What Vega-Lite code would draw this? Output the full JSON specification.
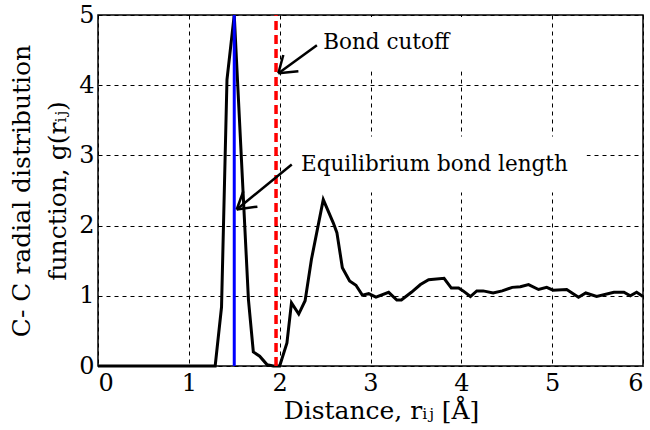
{
  "$schema": "https://vega.github.io/schema/vega-lite/v6.json",
  "autosize": {"type": "none"},
  "width": 545,
  "height": 351,
  "padding": {"left": 98, "top": 15, "right": 7, "bottom": 64},
  "background": "white",
  "config": {
    "view": {"stroke": "black", "strokeWidth": 1.5},
    "font": "DejaVu Serif",
    "axis": {
      "domain": false,
      "ticks": false,
      "grid": true,
      "gridColor": "black",
      "gridOpacity": 1,
      "gridDash": [4, 4],
      "gridWidth": 1,
      "labelFont": "DejaVu Serif",
      "labelFontSize": 24,
      "labelColor": "black",
      "titleFont": "DejaVu Serif",
      "titleFontSize": 25,
      "titleFontWeight": "normal",
      "titleColor": "black"
    }
  },
  "datasets": {
    "gr": [
      {"r": 0.0, "g": 0.0}, {"r": 1.29, "g": 0.0}, {"r": 1.36, "g": 0.84}, {"r": 1.42, "g": 4.08},
      {"r": 1.5, "g": 5.0}, {"r": 1.58, "g": 2.92}, {"r": 1.656, "g": 0.95}, {"r": 1.71, "g": 0.2},
      {"r": 1.78, "g": 0.14}, {"r": 1.86, "g": 0.02}, {"r": 1.93, "g": 0.0}, {"r": 2.0, "g": 0.0},
      {"r": 2.08, "g": 0.33}, {"r": 2.13, "g": 0.9}, {"r": 2.21, "g": 0.74}, {"r": 2.28, "g": 0.93},
      {"r": 2.35, "g": 1.52}, {"r": 2.48, "g": 2.37}, {"r": 2.59, "g": 2.04}, {"r": 2.63, "g": 1.9},
      {"r": 2.69, "g": 1.4}, {"r": 2.77, "g": 1.21}, {"r": 2.84, "g": 1.15}, {"r": 2.91, "g": 1.01},
      {"r": 2.98, "g": 1.03}, {"r": 3.06, "g": 0.98}, {"r": 3.2, "g": 1.05}, {"r": 3.29, "g": 0.94},
      {"r": 3.34, "g": 0.94}, {"r": 3.45, "g": 1.05}, {"r": 3.55, "g": 1.16}, {"r": 3.64, "g": 1.23},
      {"r": 3.81, "g": 1.25}, {"r": 3.89, "g": 1.11}, {"r": 3.97, "g": 1.11}, {"r": 4.02, "g": 1.07},
      {"r": 4.1, "g": 0.99}, {"r": 4.17, "g": 1.07}, {"r": 4.24, "g": 1.07}, {"r": 4.35, "g": 1.04},
      {"r": 4.45, "g": 1.07}, {"r": 4.56, "g": 1.12}, {"r": 4.65, "g": 1.13}, {"r": 4.74, "g": 1.16},
      {"r": 4.85, "g": 1.09}, {"r": 4.94, "g": 1.12}, {"r": 5.01, "g": 1.08}, {"r": 5.16, "g": 1.09},
      {"r": 5.29, "g": 0.98}, {"r": 5.37, "g": 1.04}, {"r": 5.49, "g": 0.99}, {"r": 5.68, "g": 1.05},
      {"r": 5.79, "g": 1.05}, {"r": 5.86, "g": 1.0}, {"r": 5.93, "g": 1.05}, {"r": 6.0, "g": 0.99}
    ],
    "arrows": [
      {"x": 2.41, "y": 4.57, "x2": 1.986, "y2": 4.17},
      {"x": 1.986, "y": 4.17, "x2": 2.206, "y2": 4.2},
      {"x": 1.986, "y": 4.17, "x2": 2.04, "y2": 4.43},
      {"x": 2.133, "y": 2.87, "x2": 1.527, "y2": 2.23},
      {"x": 1.527, "y": 2.23, "x2": 1.755, "y2": 2.27},
      {"x": 1.527, "y": 2.23, "x2": 1.6, "y2": 2.49}
    ],
    "boxes": [
      {"x": 2.05, "x2": 4.6, "y": 4.2, "y2": 4.97},
      {"x": 2.02, "x2": 5.38, "y": 2.47, "y2": 3.27}
    ],
    "labels": [
      {"x": 2.48, "y": 4.6, "text": "Bond cutoff"},
      {"x": 2.235, "y": 2.87, "text": "Equilibrium bond length"}
    ],
    "marks": [
      {"name": "equilibrium", "r": 1.5, "lo": 0, "hi": 5},
      {"name": "cutoff", "r": 1.96, "lo": 0, "hi": 5}
    ]
  },
  "layer": [
    {
      "data": {"name": "boxes"},
      "mark": {"type": "rect", "fill": "white", "stroke": null},
      "encoding": {
        "x": {"field": "x", "type": "quantitative", "scale": {"domain": [0, 6], "nice": false},
              "axis": {"values": [0, 1, 2, 3, 4, 5, 6], "format": "d", "labelPadding": 5, "title": "Distance, rᵢⱼ [Å]", "titlePadding": 3, "titleX": 283}},
        "x2": {"field": "x2"},
        "y": {"field": "y", "type": "quantitative", "scale": {"domain": [0, 5], "nice": false},
              "axis": {"values": [0, 1, 2, 3, 4, 5], "format": "d", "labelPadding": 4, "title": ["C- C radial distribution", "function, g(rᵢⱼ)"], "titlePadding": 8, "titleLineHeight": 36}},
        "y2": {"field": "y2"}
      }
    },
    {
      "data": {"name": "gr"},
      "mark": {"type": "line", "color": "black", "strokeWidth": 3, "strokeJoin": "miter"},
      "encoding": {
        "x": {"field": "r", "type": "quantitative"},
        "y": {"field": "g", "type": "quantitative"}
      }
    },
    {
      "data": {"name": "marks"},
      "transform": [{"filter": "datum.name == 'equilibrium'"}],
      "mark": {"type": "rule", "color": "#0000ff", "strokeWidth": 3},
      "encoding": {
        "x": {"field": "r", "type": "quantitative"},
        "y": {"field": "lo", "type": "quantitative"},
        "y2": {"field": "hi"}
      }
    },
    {
      "data": {"name": "marks"},
      "transform": [{"filter": "datum.name == 'cutoff'"}],
      "mark": {"type": "rule", "color": "#ff0000", "strokeWidth": 3.5, "strokeDash": [9, 5]},
      "encoding": {
        "x": {"field": "r", "type": "quantitative"},
        "y": {"field": "lo", "type": "quantitative"},
        "y2": {"field": "hi"}
      }
    },
    {
      "data": {"name": "arrows"},
      "mark": {"type": "rule", "color": "black", "strokeWidth": 2.5},
      "encoding": {
        "x": {"field": "x", "type": "quantitative"},
        "x2": {"field": "x2"},
        "y": {"field": "y", "type": "quantitative"},
        "y2": {"field": "y2"}
      }
    },
    {
      "data": {"name": "labels"},
      "mark": {"type": "text", "align": "left", "baseline": "middle", "font": "DejaVu Serif", "fontSize": 21.5, "color": "black"},
      "encoding": {
        "x": {"field": "x", "type": "quantitative"},
        "y": {"field": "y", "type": "quantitative"},
        "text": {"field": "text"}
      }
    }
  ]
}
